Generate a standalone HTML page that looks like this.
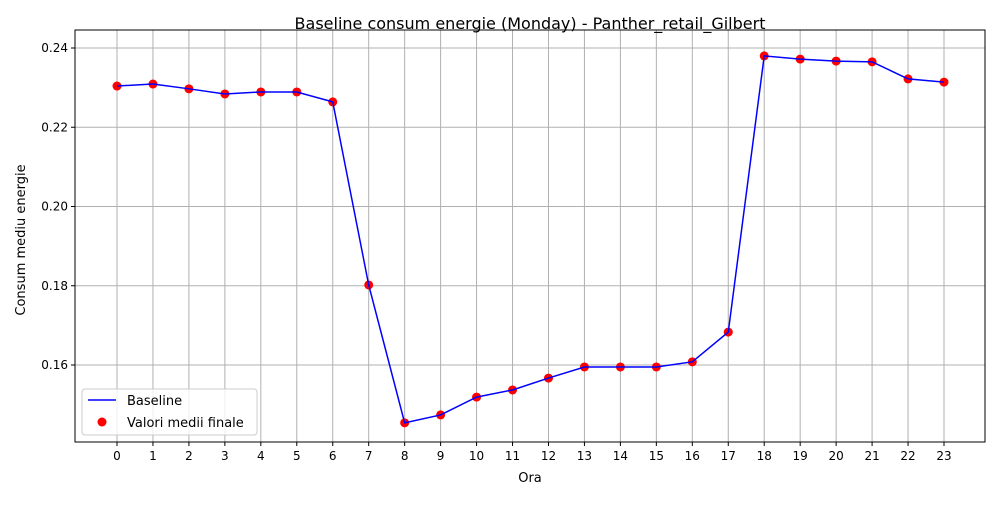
<!DOCTYPE html>
<html><head><meta charset="utf-8"><style>
body{margin:0;background:#fff;font-family:"Liberation Sans","DejaVu Sans",sans-serif}
</style></head><body>
<svg id="chart" width="1000" height="500" xmlns="http://www.w3.org/2000/svg" font-family="DejaVu Sans, Liberation Sans, sans-serif"></svg>
<script>
const hours=[0,1,2,3,4,5,6,7,8,9,10,11,12,13,14,15,16,17,18,19,20,21,22,23];
const baseline=[0.2304,0.2309,0.2297,0.2284,0.2289,0.2289,0.2264,0.1802,0.1454,0.1474,0.1519,0.1537,0.1567,0.1595,0.1595,0.1595,0.1608,0.1683,0.2380,0.2372,0.2367,0.2365,0.2322,0.2314];
const yTicks=[0.16,0.18,0.20,0.22,0.24];
const L=75,R=985,T=30,B=442;
const x=h=>117+(h-0)*(944-117)/23;
const y=v=>365-(v-0.16)*(365-48)/0.08;
const svg=document.getElementById('chart');
const NS='http://www.w3.org/2000/svg';
function mk(t,a,p){const e=document.createElementNS(NS,t);for(const k in a)e.setAttribute(k,a[k]);(p||svg).appendChild(e);return e;}
// grid
hours.forEach(h=>{const g=mk('line',{x1:x(h),x2:x(h),y1:T,y2:B,stroke:'#b0b0b0','stroke-width':1});


mk('line',{x1:x(h),x2:x(h),y1:B,y2:B+4,stroke:'#000'});
const t=mk('text',{x:x(h),y:B+18,'text-anchor':'middle','font-size':12});t.textContent=h;

});
yTicks.forEach(v=>{const g=mk('line',{x1:L,x2:R,y1:y(v),y2:y(v),stroke:'#b0b0b0','stroke-width':1});


mk('line',{x1:L-4,x2:L,y1:y(v),y2:y(v),stroke:'#000'});
const t=mk('text',{x:L-7,y:y(v)+4,'text-anchor':'end','font-size':12});t.textContent=v.toFixed(2);

});
const fr=mk('rect',{x:L,y:T,width:R-L,height:B-T,fill:'none',stroke:'#000','stroke-width':1});


const pl=mk('polyline',{points:hours.map((h,i)=>x(h)+','+y(baseline[i])).join(' '),fill:'none',stroke:'#0000ff','stroke-width':1.5});


hours.forEach((h,i)=>{const c=mk('circle',{cx:x(h),cy:y(baseline[i]),r:4.5,fill:'#ff0000'});

});
pl.parentNode.appendChild(pl);
let t=mk('text',{x:530,y:29,'text-anchor':'middle','font-size':16});t.textContent='Baseline consum energie (Monday) - Panther_retail_Gilbert';

t=mk('text',{x:530,y:482,'text-anchor':'middle','font-size':13});t.textContent='Ora';

t=mk('text',{x:25,y:240,'text-anchor':'middle','font-size':13,transform:'rotate(-90 25 240)'});t.textContent='Consum mediu energie';

const lg=mk('g',{});
mk('rect',{x:82,y:389,width:175,height:46,fill:'#fff','fill-opacity':0.8,stroke:'#ccc',rx:3},lg);
mk('line',{x1:88,x2:116,y1:400,y2:400,stroke:'#0000ff','stroke-width':1.5},lg);
mk('circle',{cx:102,cy:422,r:4.5,fill:'#ff0000'},lg);
t=mk('text',{x:127,y:405,'font-size':13},lg);t.textContent='Baseline';

t=mk('text',{x:127,y:427,'font-size':13},lg);t.textContent='Valori medii finale';

</script>
</body></html>
